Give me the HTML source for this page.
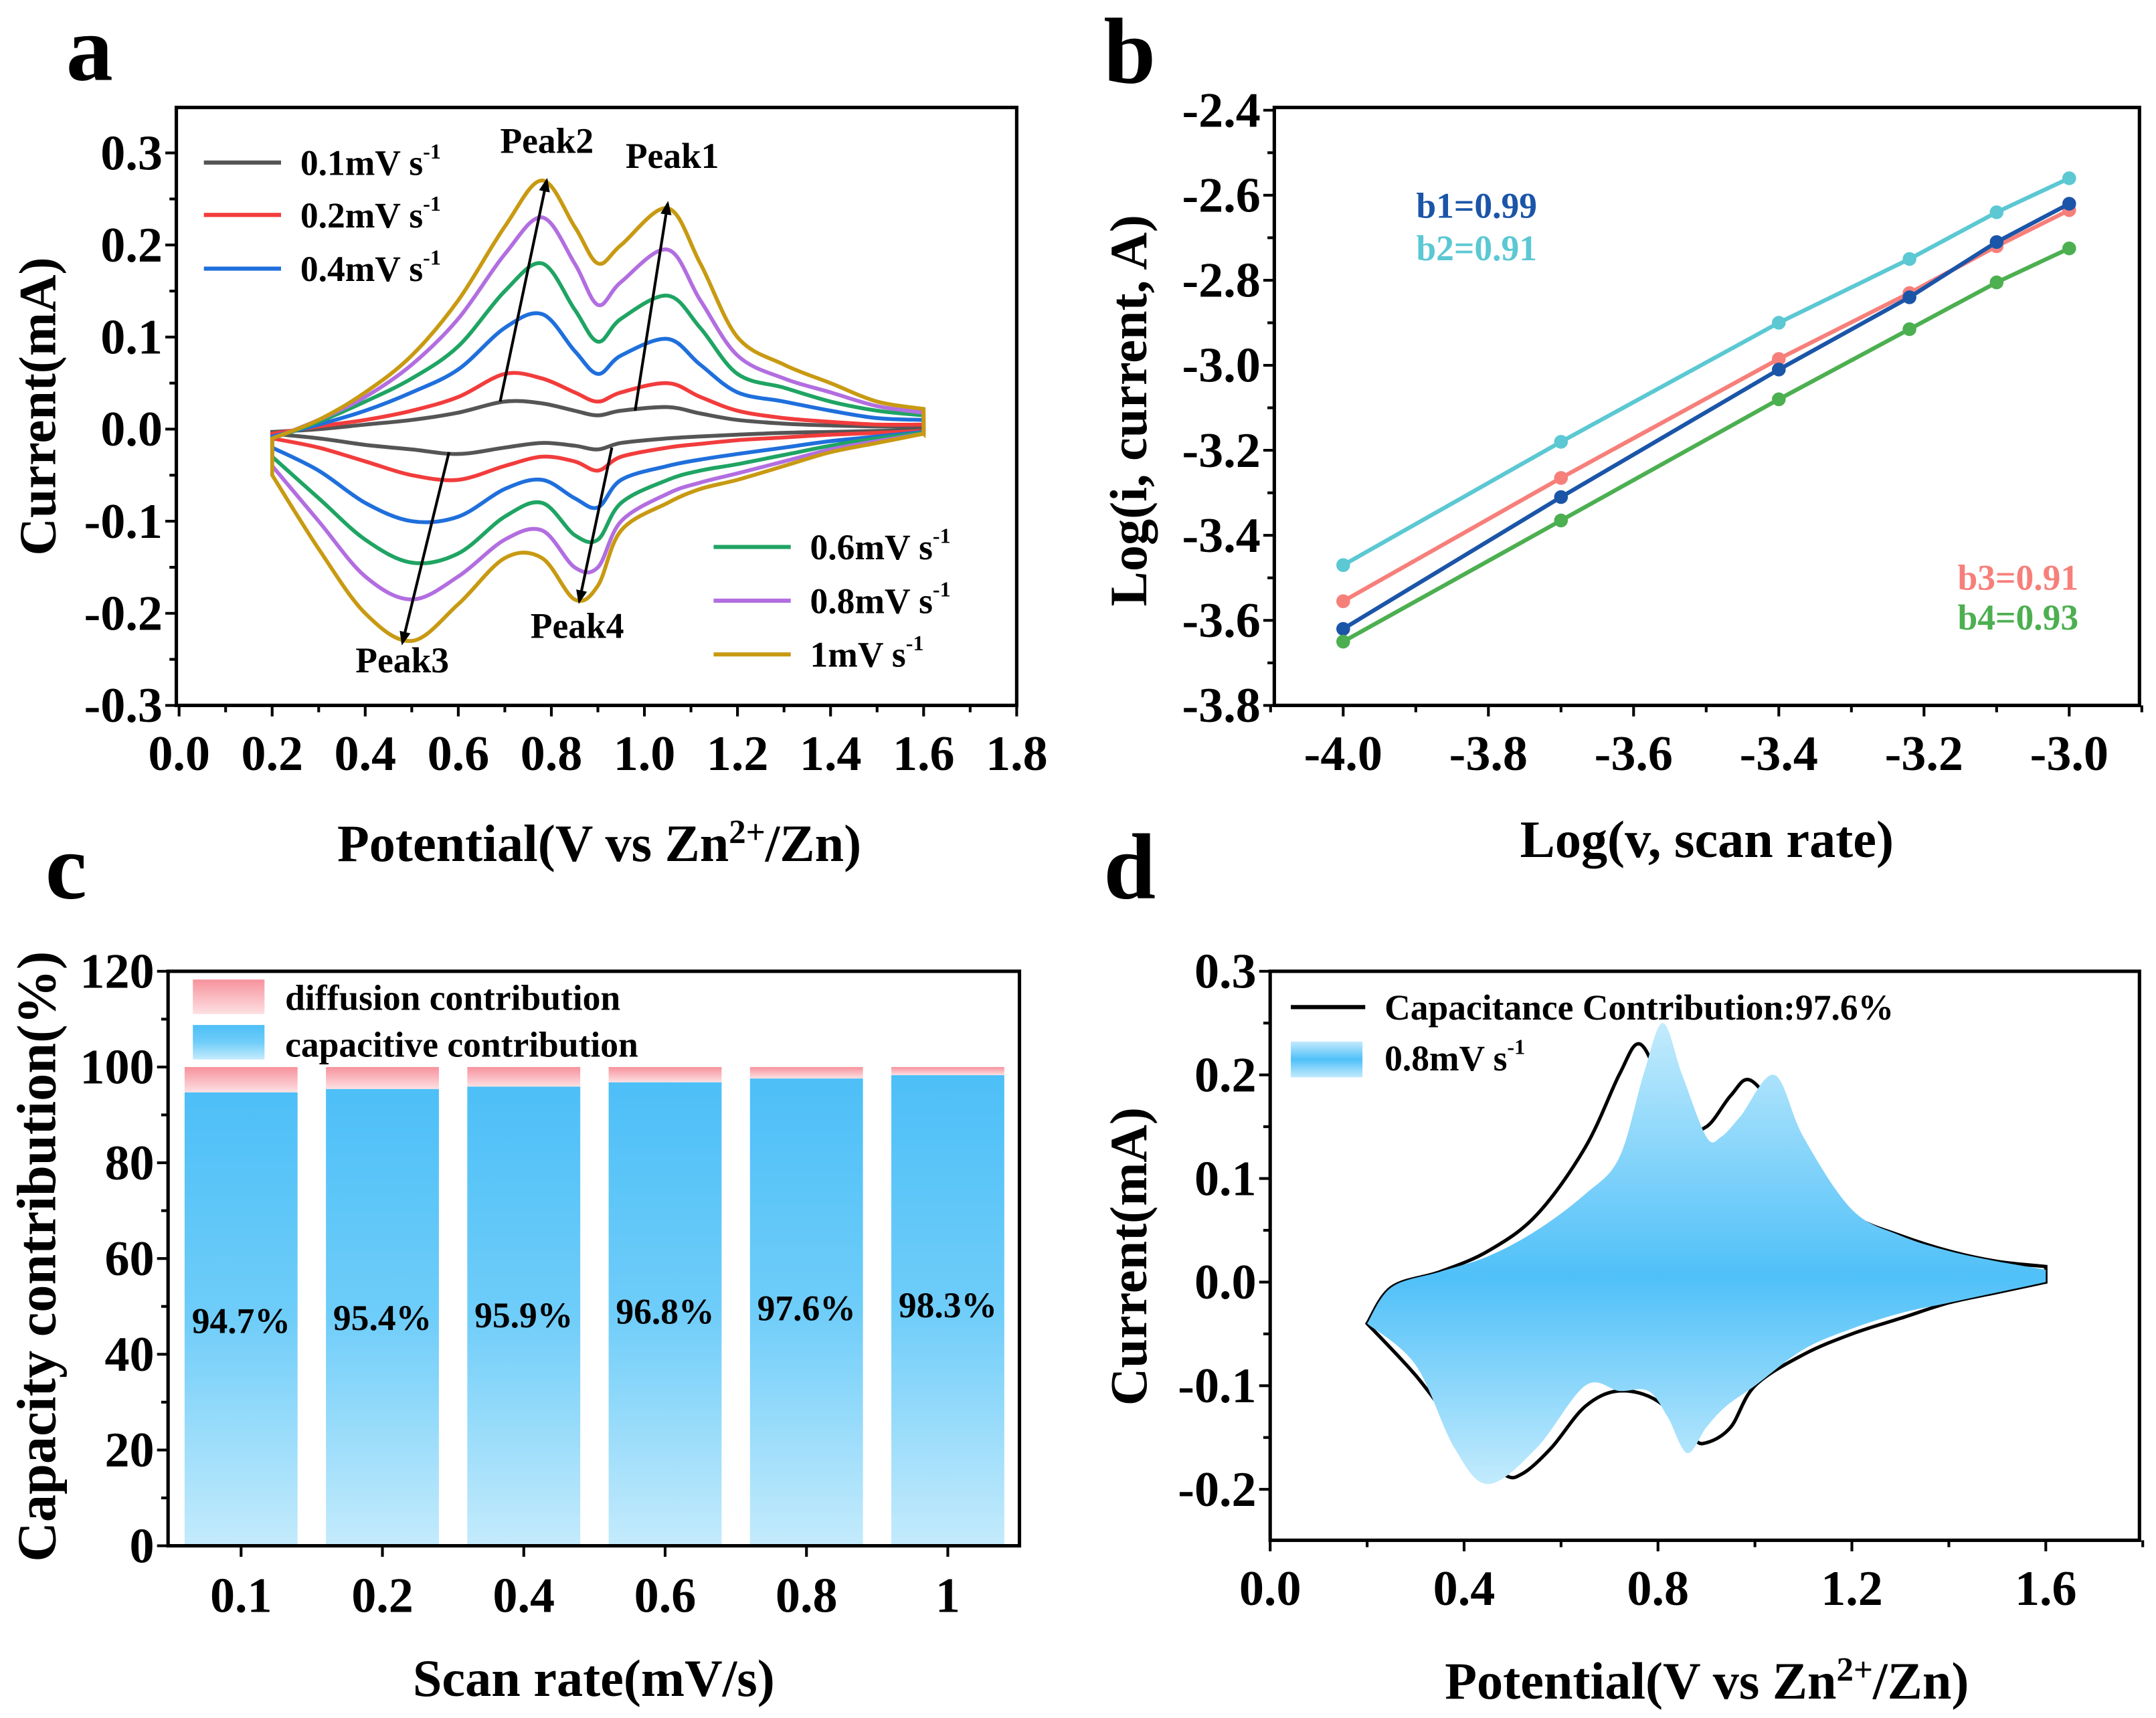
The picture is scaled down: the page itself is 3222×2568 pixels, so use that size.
<!DOCTYPE html>
<html><head><meta charset="utf-8"><style>
html,body{margin:0;padding:0;background:#fff;}
svg{display:block;font-family:"Liberation Serif",serif;font-weight:bold;}
</style></head><body>
<svg id="fig" width="3222" height="2568" viewBox="0 0 1565 1247" preserveAspectRatio="none" xmlns="http://www.w3.org/2000/svg">
<defs>
<linearGradient id="blueG" x1="0" y1="0" x2="0" y2="1"><stop offset="0" stop-color="#4dbff7"/><stop offset="0.5" stop-color="#6fcdf9"/><stop offset="1" stop-color="#c4ebfc"/></linearGradient>
<linearGradient id="pinkG" x1="0" y1="0" x2="0" y2="1"><stop offset="0" stop-color="#f7929c"/><stop offset="1" stop-color="#fde0e3"/></linearGradient>
<linearGradient id="dG" x1="0" y1="0" x2="0" y2="1"><stop offset="0" stop-color="#c3ebfd"/><stop offset="0.55" stop-color="#4fc0f8"/><stop offset="1" stop-color="#c3ebfd"/></linearGradient>
<linearGradient id="legB" x1="0" y1="0" x2="0" y2="1"><stop offset="0" stop-color="#c3ebfd"/><stop offset="0.5" stop-color="#4fc0f8"/><stop offset="1" stop-color="#c3ebfd"/></linearGradient>
<marker id="arr" markerWidth="10" markerHeight="10" refX="8" refY="5" orient="auto" markerUnits="userSpaceOnUse"><path d="M0,1 L10,5 L0,9 Z" fill="#000"/></marker>
</defs>
</svg>
<script>
// ---- Panel a data ----
const cvX = [0.2,0.3,0.4,0.5,0.6,0.7,0.78,0.85,0.9,0.95,1.05,1.12,1.2,1.3,1.4,1.5,1.6];
const cvRates = ["0.1mV s","0.2mV s","0.4mV s","0.6mV s","0.8mV s","1mV s"];
const cvUp01 = [-0.003,0.0,0.005,0.01,0.018,0.03,0.028,0.02,0.015,0.02,0.024,0.017,0.01,0.006,0.004,0.003,0.002];
const cvUp02 = [-0.005,0.003,0.01,0.02,0.035,0.06,0.055,0.04,0.03,0.04,0.05,0.035,0.02,0.012,0.008,0.005,0.005];
const cvUp04 = [-0.008,0.005,0.02,0.04,0.065,0.11,0.125,0.085,0.06,0.08,0.098,0.07,0.04,0.03,0.02,0.012,0.01];
const cvUp06 = [-0.01,0.008,0.03,0.055,0.09,0.15,0.18,0.13,0.095,0.12,0.145,0.11,0.06,0.045,0.03,0.02,0.015];
const cvUp08 = [-0.01,0.01,0.035,0.07,0.12,0.19,0.23,0.18,0.135,0.16,0.195,0.14,0.08,0.055,0.04,0.025,0.018];
const cvUp10 = [-0.01,0.01,0.04,0.08,0.14,0.22,0.27,0.22,0.18,0.2,0.24,0.18,0.1,0.07,0.05,0.03,0.022];
const cvLo01 = [-0.005,-0.01,-0.017,-0.022,-0.027,-0.02,-0.015,-0.018,-0.022,-0.015,-0.01,-0.008,-0.006,-0.004,-0.003,-0.002,-0.001];
const cvLo02 = [-0.01,-0.02,-0.035,-0.05,-0.055,-0.04,-0.03,-0.035,-0.045,-0.03,-0.02,-0.016,-0.012,-0.009,-0.006,-0.004,-0.002];
const cvLo04 = [-0.02,-0.045,-0.08,-0.1,-0.095,-0.065,-0.055,-0.075,-0.085,-0.055,-0.04,-0.033,-0.027,-0.02,-0.013,-0.008,-0.003];
const cvLo06 = [-0.03,-0.075,-0.12,-0.145,-0.135,-0.095,-0.08,-0.115,-0.12,-0.08,-0.055,-0.045,-0.038,-0.028,-0.018,-0.01,-0.004];
const cvLo08 = [-0.04,-0.1,-0.16,-0.185,-0.16,-0.12,-0.11,-0.15,-0.15,-0.1,-0.07,-0.058,-0.048,-0.035,-0.022,-0.013,-0.005];
const cvLo10 = [-0.05,-0.13,-0.2,-0.23,-0.19,-0.14,-0.14,-0.185,-0.17,-0.11,-0.08,-0.065,-0.055,-0.04,-0.025,-0.015,-0.005];
const aXTicks = ["0.0","0.2","0.4","0.6","0.8","1.0","1.2","1.4","1.6","1.8"];
const aYTicks = ["-0.3","-0.2","-0.1","0.0","0.1","0.2","0.3"];
// ---- Panel b data ----
const bX = [-4.0,-3.7,-3.4,-3.22,-3.1,-3.0];
const bY1 = [-3.62,-3.31,-3.01,-2.84,-2.71,-2.62];
const bY2 = [-3.47,-3.18,-2.90,-2.75,-2.64,-2.56];
const bY3 = [-3.555,-3.265,-2.985,-2.83,-2.72,-2.635];
const bY4 = [-3.65,-3.365,-3.08,-2.915,-2.805,-2.725];
const bXTicks = ["-4.0","-3.8","-3.6","-3.4","-3.2","-3.0"];
const bYTicks = ["-3.8","-3.6","-3.4","-3.2","-3.0","-2.8","-2.6","-2.4"];
// ---- Panel c data ----
const cCats = ["0.1","0.2","0.4","0.6","0.8","1"];
const cCap = [94.7,95.4,95.9,96.8,97.6,98.3];
const cLabels = ["94.7%","95.4%","95.9%","96.8%","97.6%","98.3%"];
const cYTicks = ["0","20","40","60","80","100","120"];
// ---- Panel d data ----
const dUpX = [0.2,0.25,0.35,0.45,0.55,0.65,0.72,0.76,0.8,0.85,0.9,0.95,0.99,1.05,1.1,1.2,1.3,1.4,1.5,1.6];
const dUpY = [-0.04,-0.005,0.01,0.03,0.065,0.13,0.2,0.23,0.2,0.15,0.15,0.18,0.195,0.16,0.11,0.065,0.045,0.03,0.02,0.015];
const dLoX = [1.6,1.5,1.4,1.3,1.2,1.1,1.0,0.95,0.9,0.87,0.8,0.72,0.65,0.58,0.52,0.48,0.4,0.3,0.2];
const dLoY = [0.0,-0.01,-0.02,-0.035,-0.05,-0.07,-0.1,-0.14,-0.155,-0.15,-0.115,-0.105,-0.12,-0.16,-0.185,-0.185,-0.15,-0.09,-0.04];
const fUpX = [0.2,0.25,0.35,0.45,0.55,0.65,0.72,0.77,0.81,0.85,0.9,0.93,0.97,1.04,1.1,1.2,1.3,1.4,1.5,1.6];
const fUpY = [-0.04,-0.005,0.01,0.025,0.05,0.085,0.12,0.2,0.25,0.2,0.14,0.14,0.16,0.2,0.14,0.07,0.045,0.03,0.02,0.012];
const fLoX = [1.6,1.5,1.4,1.3,1.2,1.1,1.0,0.94,0.9,0.86,0.82,0.78,0.72,0.65,0.55,0.45,0.38,0.3,0.2];
const fLoY = [0.0,-0.01,-0.02,-0.03,-0.045,-0.065,-0.1,-0.12,-0.14,-0.165,-0.13,-0.105,-0.105,-0.1,-0.16,-0.195,-0.16,-0.08,-0.04];
const dXTicks = ["0.0","0.4","0.8","1.2","1.6"];
const dYTicks = ["-0.2","-0.1","0.0","0.1","0.2","0.3"];

const NS="http://www.w3.org/2000/svg";
const svg=document.getElementById('fig');
const TF=36, AF=38;
function mk(tag,attrs,parent){const e=document.createElementNS(NS,tag);for(const k in attrs)e.setAttribute(k,attrs[k]);(parent||svg).appendChild(e);return e;}
function lin(d0,d1,r0,r1){return v=>r0+(v-d0)*(r1-r0)/(d1-d0);}
function smooth(pts){let d="M"+pts[0][0].toFixed(1)+","+pts[0][1].toFixed(1);
 for(let i=0;i<pts.length-1;i++){const p0=pts[Math.max(0,i-1)],p1=pts[i],p2=pts[i+1],p3=pts[Math.min(pts.length-1,i+2)];
 const c1=[p1[0]+(p2[0]-p0[0])/6,p1[1]+(p2[1]-p0[1])/6],c2=[p2[0]-(p3[0]-p1[0])/6,p2[1]-(p3[1]-p1[1])/6];
 d+=" C"+c1[0].toFixed(1)+","+c1[1].toFixed(1)+" "+c2[0].toFixed(1)+","+c2[1].toFixed(1)+" "+p2[0].toFixed(1)+","+p2[1].toFixed(1);}return d;}
function txt(s,x,y,size,anchor,fill,name,parent){const t=mk('text',{x:x,y:y,'font-size':size,'text-anchor':anchor||'middle',fill:fill||'#000'},parent);t.textContent=s;
 
 
 return t;}
function frame(x0,y0,x1,y1,name){const r=mk('rect',{x:x0,y:y0,width:x1-x0,height:y1-y0,fill:'none',stroke:'#000','stroke-width':2.5});
 
 }
function xTicks(vals,labels,sx,y,fs,name){vals.forEach((v,i)=>{const x=sx(v);mk('line',{x1:x,y1:y,x2:x,y2:y+8,stroke:'#000','stroke-width':2});
 txt(labels[i],x,y+47,fs,'middle','#000',name);});}
function yTicks(vals,labels,sy,x,fs,name){vals.forEach((v,i)=>{const y=sy(v);mk('line',{x1:x,y1:y,x2:x-8,y2:y,stroke:'#000','stroke-width':2});
 txt(labels[i],x-10,y+12,fs,'end','#000',name);});}
function sup(t,base,s){const a=mk('tspan',{},t);a.textContent=base;const b=mk('tspan',{dy:-12,'font-size':'0.6em'},t);b.textContent=s;}

// ===== Panel a =====
(function(){
 const sx=lin(0,1.8,130,738), sy=lin(0.3,-0.3,111,512);
 txt("a",65,58,68,'middle','#000','panel-label-a');
 frame(128,78,738,512,'panel-a-frame');
 xTicks(aXTicks.map(Number),aXTicks,sx,512,TF,'a-x-tick-label');
 for(let v=0.1;v<1.8;v+=0.2)mk('line',{x1:sx(v),y1:512,x2:sx(v),y2:517,stroke:'#000','stroke-width':2});
 yTicks(aYTicks.map(Number),aYTicks,sy,128,TF,'a-y-tick-label');
 for(let v=-0.25;v<0.3;v+=0.1)mk('line',{x1:128,y1:sy(v),x2:123,y2:sy(v),stroke:'#000','stroke-width':2});
 const ups=[cvUp01,cvUp02,cvUp04,cvUp06,cvUp08,cvUp10], los=[cvLo01,cvLo02,cvLo04,cvLo06,cvLo08,cvLo10];
 const cols=["#555555","#f23c3c","#1f6fdc","#1fa463","#b26ee0","#c89a12"];
 for(let k=0;k<6;k++){
  const pu=cvX.map((x,i)=>[sx(x),sy(ups[k][i])]);
  const pl=cvX.map((x,i)=>[sx(x),sy(los[k][i])]).reverse();
  const p=mk('path',{d:smooth(pu)+" L"+pl[0][0]+","+pl[0][1]+" "+smooth(pl).slice(1)+" Z",fill:'none',stroke:cols[k],'stroke-width':2.8});
  
  
 }
 const arrows=[[0.69,0.03,0.79,0.27],[0.98,0.02,1.05,0.245],[0.58,-0.025,0.48,-0.232],[0.93,-0.02,0.86,-0.187]];
 arrows.forEach(a=>{const l=mk('line',{x1:sx(a[0]),y1:sy(a[1]),x2:sx(a[2]),y2:sy(a[3]),stroke:'#000','stroke-width':2,'marker-end':'url(#arr)'});
  
  });
 txt("Peak2",397,111,26,'middle','#000','peak2-label');txt("Peak1",488,122,26,'middle','#000','peak1-label');
 txt("Peak3",292,488,26,'middle','#000','peak3-label');txt("Peak4",419,463,26,'middle','#000','peak4-label');
 const legY=[118,156,195,397,436,475], legX=[148,148,148,518,518,518];
 for(let k=0;k<6;k++){mk('line',{x1:legX[k],y1:legY[k],x2:legX[k]+56,y2:legY[k],stroke:cols[k],'stroke-width':3});
  const t=txt("",legX[k]+70,legY[k]+9,26,'start','#000','legend-entry-'+k);sup(t,cvRates[k],"-1");}
 const yt=txt("Current(mA)",0,0,AF,'middle','#000','a-y-axis-title');yt.setAttribute('transform','translate(40,295) rotate(-90)');
 const xt=txt("",435,625,AF,'middle','#000','a-x-axis-title');const s1=mk('tspan',{},xt);s1.textContent="Potential(V vs Zn";const s2=mk('tspan',{dy:-13,'font-size':'0.65em'},xt);s2.textContent="2+";const s3=mk('tspan',{dy:13},xt);s3.textContent="/Zn)";
})();

// ===== Panel b =====
(function(){
 const sx=lin(-4,-3,975,1502), sy=lin(-2.4,-3.8,80,512);
 txt("b",820,60,68,'middle','#000','panel-label-b');
 frame(925,78,1553,512,'panel-b-frame');
 xTicks(bXTicks.map(Number),bXTicks,sx,512,TF,'b-x-tick-label');
 for(let v=-4.1;v<-2.8;v+=0.2)mk('line',{x1:sx(v),y1:512,x2:sx(v),y2:517,stroke:'#000','stroke-width':2});
 yTicks(bYTicks.map(Number),bYTicks,sy,925,TF,'b-y-tick-label');
 for(let v=-3.7;v<-2.4;v+=0.2)mk('line',{x1:925,y1:sy(v),x2:920,y2:sy(v),stroke:'#000','stroke-width':2});
 const series=[bY2,bY3,bY1,bY4], cols=["#5bc8d3","#f77f7a","#1b55a8","#4caf50"], names=["b2","b3","b1","b4"];
 series.forEach((ys,k)=>{
  const l=mk('polyline',{points:bX.map((x,i)=>sx(x)+","+sy(ys[i])).join(" "),fill:'none',stroke:cols[k],'stroke-width':3});
  
  
  bX.forEach((x,i)=>{const c=mk('circle',{cx:sx(x),cy:sy(ys[i]),r:5,fill:cols[k]});
   
   });
 });
 txt("b1=0.99",1028,158,26,'start','#1b55a8','b1-label');
 txt("b2=0.91",1028,189,26,'start','#5bc8d3','b2-label');
 txt("b3=0.91",1421,428,26,'start','#f77f7a','b3-label');
 txt("b4=0.93",1421,457,26,'start','#4caf50','b4-label');
 const yt=txt("Log(i, current, A)",0,0,AF,'middle','#000','b-y-axis-title');yt.setAttribute('transform','translate(832,298) rotate(-90)');
 txt("Log(v, scan rate)",1239,622,AF,'middle','#000','b-x-axis-title');
})();

// ===== Panel c =====
(function(){
 const sy=lin(0,120,1122,705), bw=82;
 const cx=i=>175+i*102.6;
 txt("c",48,652,68,'middle','#000','panel-label-c');
 cCats.forEach((c,i)=>{
  const x=cx(i)-bw/2;
  const r1=mk('rect',{x:x,y:sy(100),width:bw,height:sy(cCap[i])-sy(100),fill:'url(#pinkG)'});
  
  
  const r2=mk('rect',{x:x,y:sy(cCap[i]),width:bw,height:sy(0)-sy(cCap[i]),fill:'url(#blueG)'});
  
  
  txt(cLabels[i],cx(i),sy(cCap[i]/2)+10-(i*1),26,'middle','#000','bar-value-label');
 });
 frame(122,705,740,1122,'panel-c-frame');
 cCats.forEach((c,i)=>{mk('line',{x1:cx(i),y1:1122,x2:cx(i),y2:1130,stroke:'#000','stroke-width':2});txt(c,cx(i),1170,TF,'middle','#000','c-x-tick-label');});
 yTicks(cYTicks.map(Number),cYTicks,sy,122,TF,'c-y-tick-label');
 for(let v=10;v<120;v+=20)mk('line',{x1:122,y1:sy(v),x2:117,y2:sy(v),stroke:'#000','stroke-width':2});
 const l1=mk('rect',{x:140,y:711,width:52,height:25,fill:'url(#pinkG)'});
 const l2=mk('rect',{x:140,y:744,width:52,height:25,fill:'url(#blueG)'});
 txt("diffusion contribution",207,733,26,'start','#000','legend-diffusion');
 txt("capacitive contribution",207,767,26,'start','#000','legend-capacitive');
 const yt=txt("Capacity contribution(%)",0,0,40,'middle','#000','c-y-axis-title');yt.setAttribute('transform','translate(40,912) rotate(-90)');
 txt("Scan rate(mV/s)",431,1231,AF,'middle','#000','c-x-axis-title');
})();

// ===== Panel d =====
(function(){
 const sx=lin(0,1.6,922,1485), sy=lin(0.3,-0.2,705,1081);
 txt("d",820,652,68,'middle','#000','panel-label-d');
 const fu=fUpX.map((x,i)=>[sx(x),sy(fUpY[i])]), fl=fLoX.map((x,i)=>[sx(x),sy(fLoY[i])]);
 const du=dUpX.map((x,i)=>[sx(x),sy(dUpY[i])]), dl=dLoX.map((x,i)=>[sx(x),sy(dLoY[i])]);
 const cv=mk('path',{d:smooth(du)+" L"+dl[0][0]+","+dl[0][1]+" "+smooth(dl).slice(1)+" Z",fill:'none',stroke:'#000','stroke-width':2.5});
 
 
 const fill=mk('path',{d:smooth(fu)+" L"+fl[0][0]+","+fl[0][1]+" "+smooth(fl).slice(1)+" Z",fill:'url(#dG)',stroke:'none'});
 
 
 frame(922,705,1553,1118,'panel-d-frame');
 xTicks(dXTicks.map(Number),dXTicks,sx,1118,TF,'d-x-tick-label');
 for(let v=0.2;v<1.8;v+=0.4)mk('line',{x1:sx(v),y1:1118,x2:sx(v),y2:1123,stroke:'#000','stroke-width':2});
 yTicks(dYTicks.map(Number),dYTicks,sy,922,TF,'d-y-tick-label');
 for(let v=-0.15;v<0.3;v+=0.1)mk('line',{x1:922,y1:sy(v),x2:917,y2:sy(v),stroke:'#000','stroke-width':2});
 mk('line',{x1:937,y1:731,x2:991,y2:731,stroke:'#000','stroke-width':3});
 const sw=mk('rect',{x:937,y:756,width:52,height:26,fill:'url(#legB)'});
 txt("Capacitance Contribution:97.6%",1005,740,26,'start','#000','legend-capacitance');
 const t=txt("",1005,777,26,'start','#000','legend-0.8mv');sup(t,"0.8mV s","-1");
 const yt=txt("Current(mA)",0,0,AF,'middle','#000','d-y-axis-title');yt.setAttribute('transform','translate(832,912) rotate(-90)');
 const xt=txt("",1239,1233,AF,'middle','#000','d-x-axis-title');const s1=mk('tspan',{},xt);s1.textContent="Potential(V vs Zn";const s2=mk('tspan',{dy:-13,'font-size':'0.65em'},xt);s2.textContent="2+";const s3=mk('tspan',{dy:13},xt);s3.textContent="/Zn)";
})();
</script>
</body></html>
